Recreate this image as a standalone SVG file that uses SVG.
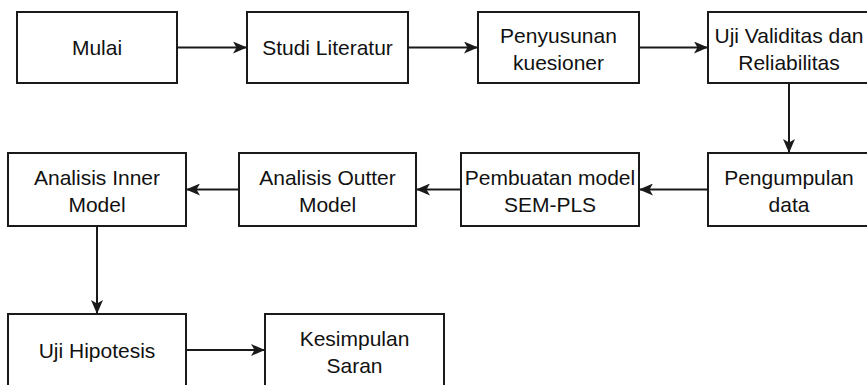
<svg xmlns="http://www.w3.org/2000/svg" width="867" height="385" viewBox="0 0 867 385">
<defs>
<style>
.box{fill:#ffffff;stroke:#1a1a1a;stroke-width:2}
.t{font-family:"Liberation Sans",Arial,sans-serif;font-size:21px;fill:#111111;text-anchor:middle}
.c{stroke:#1a1a1a;stroke-width:2;fill:none;marker-end:url(#arr)}
</style>
<marker id="arr" viewBox="0 0 14 12" refX="14" refY="6" markerWidth="14" markerHeight="12" orient="auto" markerUnits="userSpaceOnUse">
<path d="M0,0 L14,6 L0,12 L3.5,6 z" fill="#1a1a1a"/>
</marker>
</defs>
<rect width="867" height="385" fill="#ffffff"/>
<g id="connectors">
<line class="c" x1="177" y1="47.5" x2="247" y2="47.5"/>
<line class="c" x1="408" y1="47.5" x2="478" y2="47.5"/>
<line class="c" x1="639" y1="47.5" x2="708" y2="47.5"/>
<line class="c" x1="789" y1="83" x2="789" y2="153"/>
<line class="c" x1="708" y1="189.5" x2="639" y2="189.5"/>
<line class="c" x1="461" y1="189.5" x2="416" y2="189.5"/>
<line class="c" x1="239" y1="189.5" x2="186" y2="189.5"/>
<line class="c" x1="97" y1="226" x2="97" y2="314"/>
<line class="c" x1="186" y1="350" x2="265" y2="350"/>
</g>
<g id="mulai">
<rect class="box" x="17" y="12" width="160" height="71"/>
<text class="t" x="97" y="55">Mulai</text>
</g>
<g id="studi">
<rect class="box" x="247" y="12" width="161" height="71"/>
<text class="t" x="327.5" y="55">Studi Literatur</text>
</g>
<g id="penyusunan">
<rect class="box" x="478" y="12" width="161" height="71"/>
<text class="t" x="558.5" y="42.5">Penyusunan</text>
<text class="t" x="558.5" y="69.5">kuesioner</text>
</g>
<g id="uji-validitas">
<rect class="box" x="708" y="12" width="162" height="71"/>
<text class="t" x="789" y="42.5">Uji Validitas dan</text>
<text class="t" x="789" y="69.5">Reliabilitas</text>
</g>
<g id="pengumpulan">
<rect class="box" x="708" y="153" width="162" height="73"/>
<text class="t" x="789" y="185">Pengumpulan</text>
<text class="t" x="789" y="212">data</text>
</g>
<g id="pembuatan">
<rect class="box" x="461" y="153" width="178" height="73"/>
<text class="t" x="550" y="185">Pembuatan model</text>
<text class="t" x="550" y="212">SEM-PLS</text>
</g>
<g id="outter">
<rect class="box" x="239" y="153" width="177" height="73"/>
<text class="t" x="327.5" y="185">Analisis Outter</text>
<text class="t" x="327.5" y="212">Model</text>
</g>
<g id="inner">
<rect class="box" x="8" y="153" width="178" height="73"/>
<text class="t" x="97" y="185">Analisis Inner</text>
<text class="t" x="97" y="212">Model</text>
</g>
<g id="hipotesis">
<rect class="box" x="8" y="314" width="178" height="73"/>
<text class="t" x="97" y="357.5">Uji Hipotesis</text>
</g>
<g id="kesimpulan">
<rect class="box" x="265" y="314" width="179" height="73"/>
<text class="t" x="354.5" y="345.5">Kesimpulan</text>
<text class="t" x="354.5" y="372.5">Saran</text>
</g>
</svg>
